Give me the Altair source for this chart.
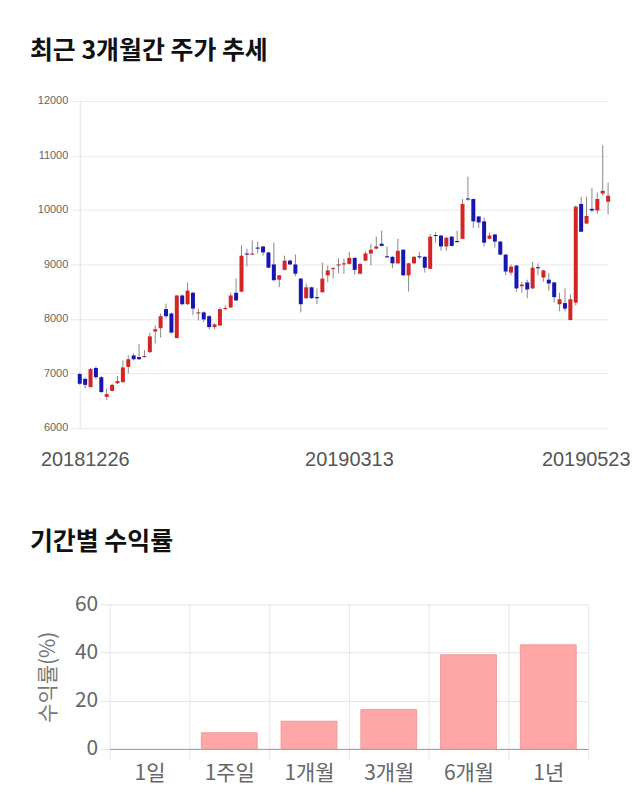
import altair as alt
import pandas as pd

# ---- candlestick data (index 0 = 20181226 ... index 98 = 20190523) ----
opens = [6990, 6900, 6750, 7100, 6930, 6570, 6680, 6820, 6840, 7120,
         7330, 7300, 7300, 7390, 7770, 7830, 8180, 8100, 7650, 8430,
         8270, 8480, 8100, 8120, 8050, 7850, 7880, 8180, 8210, 8480,
         8500, 9200, 9180, 9310, 9330, 9220, 9000, 8720, 8900, 9070,
         9000, 8740, 8380, 8580, 8400, 8490, 8800, 8910, 8980, 9000,
         9010, 9120, 8830, 9070, 9200, 9290, 9380, 9150, 9140, 9020,
         9270, 8800, 9020, 9150, 9140, 8920, 9540, 9530, 9330, 9510,
         9430, 9470, 10210, 10200, 9880, 9790, 9470, 9550, 9420, 9180,
         8850, 8980, 8600, 8670, 8560, 8950, 8760, 8720, 8670, 8270,
         8290, 7980, 8300, 10110, 9750, 10020, 9990, 10300, 10150]
closes = [6810, 6790, 7080, 6930, 6660, 6620, 6790, 6860, 7110, 7260,
          7260, 7260, 7320, 7680, 7810, 8050, 8050, 7750, 8430, 8270,
          8520, 8190, 8120, 7990, 7850, 7900, 8180, 8200, 8430, 8340,
          9160, 9180, 9200, 9290, 9220, 8940, 8710, 8800, 9070, 9000,
          8830, 8270, 8580, 8380, 8380, 8740, 8890, 8930, 9000, 9020,
          9120, 8900, 9010, 9200, 9270, 9330, 9340, 9130, 9020, 9250,
          8800, 9020, 9140, 9130, 8940, 9510, 9520, 9330, 9490, 9340,
          9410, 10110, 10190, 9790, 9770, 9400, 9530, 9420, 9180, 8870,
          8960, 8560, 8630, 8540, 8940, 8930, 8890, 8650, 8400, 8360,
          8190, 8360, 10060, 9600, 9890, 9990, 10200, 10350, 10260]
highs = [7010, 6920, 7100, 7130, 6950, 6730, 6810, 6950, 7240, 7330,
         7370, 7540, 7430, 7750, 7880, 8100, 8280, 8120, 8440, 8450,
         8670, 8500, 8190, 8140, 8070, 7920, 8210, 8250, 8480, 8740,
         9350, 9290, 9440, 9420, 9340, 9230, 9400, 8810, 9160, 9090,
         9180, 8750, 8650, 8590, 8560, 9030, 8980, 8950, 9110, 9110,
         9230, 9130, 9020, 9240, 9380, 9510, 9620, 9330, 9150, 9470,
         9280, 9030, 9150, 9230, 9150, 9560, 9590, 9540, 9500, 9520,
         9620, 10200, 10610, 10210, 9890, 9860, 9580, 9560, 9430, 9190,
         9000, 8990, 8680, 8720, 9050, 9020, 8900, 8840, 8680, 8480,
         8560, 8450, 10080, 10240, 10240, 10400, 10320, 11190, 10500]
lows = [6790, 6730, 6740, 6900, 6640, 6510, 6670, 6810, 6830, 7000,
        7240, 7250, 7290, 7380, 7550, 7660, 8010, 7730, 7640, 8250,
        8260, 8070, 7970, 7940, 7810, 7810, 7870, 8170, 8200, 8330,
        8490, 8960, 9170, 9200, 9160, 8930, 8700, 8580, 8890, 8990,
        8780, 8120, 8370, 8370, 8270, 8480, 8670, 8740, 8840, 8830,
        9000, 8810, 8820, 9060, 8980, 9280, 9330, 9120, 8930, 9010,
        8790, 8500, 9010, 9100, 8850, 8910, 9400, 9250, 9250, 9330,
        9400, 9460, 10170, 9670, 9670, 9330, 9460, 9310, 9170, 8800,
        8800, 8500, 8480, 8380, 8550, 8800, 8680, 8520, 8300, 8140,
        8140, 7970, 8250, 9590, 9740, 9960, 9930, 10260, 9920]

tick_index = [0, 49, 98]
tick_dates = ["20181226", "20190313", "20190523"]

# ---- return data ----
periods = ["1일", "1주일", "1개월", "3개월", "6개월", "1년"]
returns = [0.0, 6.7, 11.5, 16.3, 39.1, 43.2]

KFONT = "Noto Sans CJK KR"

candles = pd.DataFrame({
    "i": list(range(len(opens))),
    "open": opens, "close": closes, "high": highs, "low": lows,
})
candles["dir"] = ["up" if c >= o else "down" for o, c in zip(opens, closes)]

label_expr = " : ".join(
    f"datum.value == {i} ? '{d}'" for i, d in zip(tick_index, tick_dates)
) + " : ''"

xscale = alt.Scale(domain=[0, len(opens) - 1], nice=False, zero=False, padding=0)
yscale = alt.Scale(domain=[6000, 12000], nice=False, zero=False, padding=0)

x_enc = alt.X("i:Q", scale=xscale, axis=alt.Axis(
    values=tick_index, labelExpr=label_expr, grid=False, ticks=False,
    domain=False, labelFontSize=20, labelColor="#555", labelFont="Liberation Sans",
    labelPadding=22, labelFlush=False, labelOverlap=False,
    labelAlign={"condition": {"test": "datum.value >= 98", "value": "right"}, "value": "center"},
    labelOffset={"condition": {"test": "datum.value >= 98", "value": 22}, "value": 5},
), title=None)

y_axis = alt.Axis(values=[6000, 7000, 8000, 9000, 10000, 11000, 12000], format="d",
                  grid=True, gridColor="#e8e8e8", domainColor="#e3e3e3",
                  tickColor="#e8e8e8", tickSize=10, labelPadding=2,
                  labelFontSize=11, labelColor="#666", labelFont="Liberation Sans")

wicks = alt.Chart(candles).mark_rule(color="#888", strokeWidth=1).encode(
    x=x_enc,
    y=alt.Y("low:Q", scale=yscale, axis=y_axis, title=None),
    y2="high:Q",
)
bodies = alt.Chart(candles).mark_bar(size=4).encode(
    x=alt.X("i:Q", scale=xscale),
    y=alt.Y("open:Q", scale=yscale),
    y2="close:Q",
    color=alt.Color("dir:N", scale=alt.Scale(domain=["up", "down"],
                    range=["#d42424", "#1616b4"]), legend=None),
)

top = alt.layer(wicks, bodies).properties(
    width=530, height=328,
    title=alt.TitleParams("최근 3개월간 주가 추세", anchor="start", frame="group",
                          dx=-50, offset=11, baseline="alphabetic",
                          fontSize=25, fontWeight="bold", font=KFONT, color="#111"),
)

bars_df = pd.DataFrame({"period": periods, "ret": returns})
bars = alt.Chart(bars_df).mark_bar(
    width=alt.RelativeBandSize(0.7), color="#ffa6a6", stroke="#f09a9a", strokeWidth=1
).encode(
    x=alt.X("period:N", sort=periods, title=None,
            scale=alt.Scale(paddingInner=0, paddingOuter=0),
            axis=alt.Axis(labelAngle=0, tickBand="extent", grid=True, gridColor="#e6e6e6",
                          tickColor="#e6e6e6", tickSize=10, domainColor="#999",
                          labelFontSize=21, labelColor="#666", labelFont=KFONT,
                          labelPadding=4)),
    y=alt.Y("ret:Q", scale=alt.Scale(domain=[0, 60], nice=False),
            title="수익률(%)",
            axis=alt.Axis(values=[0, 20, 40, 60], grid=True, gridColor="#e6e6e6",
                          tickColor="#e6e6e6", tickSize=10, domain=False,
                          labelFontSize=21, labelColor="#666", labelFont=KFONT,
                          labelPadding=2, titleFontSize=21, titleColor="#777",
                          titleFont=KFONT, titleFontWeight="normal", titlePadding=16)),
    strokeOpacity=alt.condition(alt.datum.ret > 0, alt.value(1), alt.value(0)),
).properties(
    width=480, height=145,
    title=alt.TitleParams("기간별 수익률", anchor="start", frame="group",
                          dx=-80, offset=19, baseline="alphabetic",
                          fontSize=25, fontWeight="bold", font=KFONT, color="#111"),
)

spacer = alt.Chart(pd.DataFrame({"a": [0]})).mark_point(opacity=0).properties(
    width=30, height=145)

bottom = alt.hconcat(spacer, bars, spacing=0, bounds="flush")

chart = alt.vconcat(top, bottom, spacing=177, bounds="flush").properties(
    padding={"left": 30, "top": 38, "right": 10, "bottom": 20},
).configure_view(stroke=None)

chart.save("out.html", embed_options={"renderer": "svg", "actions": False})
